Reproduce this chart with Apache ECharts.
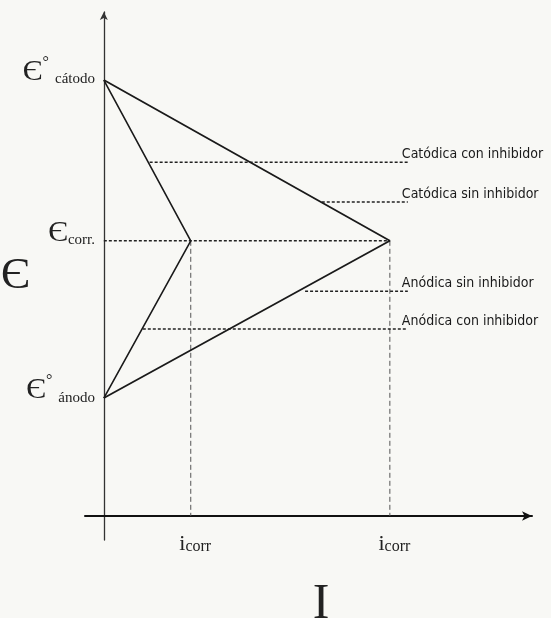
<!DOCTYPE html>
<html><head><meta charset="utf-8">
<script src="https://cdn.jsdelivr.net/npm/echarts@6/dist/echarts.min.js"></script>
<style>html,body{margin:0;padding:0;background:#f8f8f5}#c{width:551px;height:618px}</style>
</head><body><div id="c"></div>
<script>
// Potential levels (arbitrary units)
const potentialLevels = [86.5, 54.6, 23.4];            // E° cátodo, E corr, E° ánodo
const potentialSub = ['cátodo', 'corr.', 'ánodo'];
const potentialSup = ['°', '', '°'];
// Corrosion currents (arbitrary units): con inhibidor, sin inhibidor
const corrCurrents = [20.3, 66.8];
const currentSub = ['corr', 'corr'];
// Guide (dotted) lines for the four polarization curves
const guideNames = ['Catódica con inhibidor', 'Catódica sin inhibidor', 'Anódica sin inhibidor', 'Anódica con inhibidor'];
const guideLevels = [70.2, 62.3, 44.6, 37.1];
const guideStart = [10.7, 50.9, 47.0, 9.1];
const guideEnd = [71.0, 71.0, 71.0, 71.0];
// Axis extents
const xRange = [-4.4, 100];
const yRange = [-4.76, 100];

const Ecat = potentialLevels[0], Ecorr = potentialLevels[1], Ean = potentialLevels[2];
const iCon = corrCurrents[0], iSin = corrCurrents[1];

const ink = '#1a1a1a';
const serif = '"Liberation Serif", "Times New Roman", serif';
const narrow = '"Liberation Sans Narrow", "Arial Narrow", "DejaVu Sans Condensed", sans-serif';

function idxOf(arr, v) {
  let best = 0, d = Infinity;
  arr.forEach((a, i) => { const dd = Math.abs(a - v); if (dd < d) { d = dd; best = i; } });
  return best;
}

const series = [];
// Polarization curves without inhibitor
series.push({ type: 'line', data: [[0, Ecat], [iSin, Ecorr], [0, Ean]], symbol: 'none',
  lineStyle: { color: ink, width: 1.8 }, z: 5 });
// Polarization curves with inhibitor
series.push({ type: 'line', data: [[0, Ecat], [iCon, Ecorr], [0, Ean]], symbol: 'none',
  lineStyle: { color: ink, width: 1.6 }, z: 5 });
// E corr dotted line
series.push({ type: 'line', data: [[0, Ecorr], [iSin, Ecorr]], symbol: 'none',
  lineStyle: { color: '#222', width: 1.5, type: [3, 2] } });
// vertical dashed to currents
corrCurrents.forEach(i => series.push({ type: 'line', data: [[i, Ecorr], [i, 0]], symbol: 'none',
  lineStyle: { color: '#555', width: 1, type: [5, 3] } }));
// guides with labels
guideNames.forEach((n, k) => series.push({
  type: 'line', symbol: 'circle', symbolSize: 0,
  lineStyle: { color: '#222', width: 1.5, type: [3, 2] },
  data: [[guideStart[k], guideLevels[k]], { value: [guideEnd[k], guideLevels[k]],
    label: { show: true, formatter: n, position: [-6, -1], align: 'left', verticalAlign: 'bottom',
      fontFamily: narrow, fontSize: 14, color: '#1a1a1a' } }]
}));

const chart = echarts.init(document.getElementById('c'));
chart.setOption({
  backgroundColor: '#f8f8f5',
  animation: false,
  grid: { left: 85, right: 19, top: 12, bottom: 78, containLabel: false, outerBoundsMode: 'none' },
  xAxis: {
    type: 'value', min: xRange[0], max: xRange[1],
    name: 'I', nameLocation: 'middle', nameGap: 40, nameMoveOverlap: false,
    nameTextStyle: { fontFamily: serif, fontSize: 50, color: '#222', padding: [0, 0, 0, 25] },
    axisLine: { onZero: true, lineStyle: { color: '#111', width: 2 }, symbol: ['none', 'arrow'], symbolSize: [7, 10] },
    axisTick: { show: false }, splitLine: { show: false },
    axisLabel: {
      customValues: corrCurrents, margin: -9, padding: [0, 0, 0, 9],
      formatter: (v) => '{i|i}{s|' + currentSub[idxOf(corrCurrents, v)] + '}',
      rich: {
        i: { fontFamily: serif, fontSize: 22, lineHeight: 24, verticalAlign: 'bottom', color: '#222' },
        s: { fontFamily: serif, fontSize: 16, lineHeight: 18, verticalAlign: 'bottom', color: '#222' }
      }
    }
  },
  yAxis: {
    type: 'value', min: yRange[0], max: yRange[1],
    name: 'Є', nameLocation: 'middle', nameGap: 55, nameRotate: 0, nameMoveOverlap: false,
    nameTextStyle: { fontFamily: serif, fontSize: 44, color: '#222' },
    axisLine: { onZero: true, lineStyle: { color: '#333', width: 1.3 }, symbol: ['none', 'arrow'], symbolSize: [6, 8] },
    axisTick: { show: false }, splitLine: { show: false },
    axisLabel: {
      customValues: potentialLevels, margin: -10, verticalAlign: 'middle', padding: [0, 0, 18, 0],
      formatter: (v) => {
        const k = idxOf(potentialLevels, v);
        if (potentialSup[k]) return '{e|Є}{sup|' + potentialSup[k] + '}{sub|' + potentialSub[k] + '}';
        return '{e|Є}{sub2|' + potentialSub[k] + '}';
      },
      rich: {
        e: { fontFamily: serif, fontSize: 30, lineHeight: 32, verticalAlign: 'bottom', color: '#222' },
        sup: { fontFamily: serif, fontSize: 16, lineHeight: 16, verticalAlign: 'top', color: '#222' },
        sub: { fontFamily: serif, fontSize: 15, lineHeight: 18, verticalAlign: 'bottom', color: '#222', padding: [0, 0, 0, 6] },
        sub2: { fontFamily: serif, fontSize: 15, lineHeight: 18, verticalAlign: 'bottom', color: '#222' }
      }
    }
  },
  series
});
</script></body></html>
